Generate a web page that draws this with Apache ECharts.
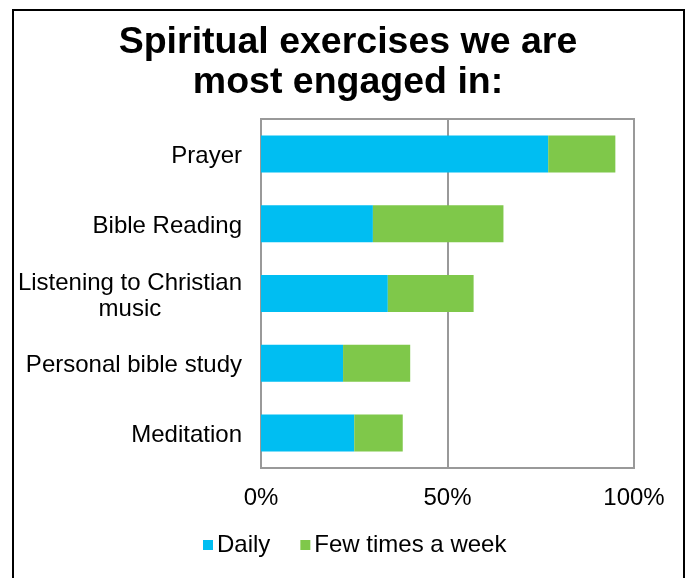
<!DOCTYPE html>
<html><head><meta charset="utf-8">
<script src="https://cdn.jsdelivr.net/npm/echarts@6/dist/echarts.min.js"></script>
<style>html,body{margin:0;padding:0;background:#fff}#c{width:689px;height:578px}</style>
</head><body><div id="c"></div>
<script>
const categories = ['Prayer', 'Bible Reading', 'Listening to Christian\nmusic', 'Personal bible study', 'Meditation'];
const daily = [77, 30, 34, 22, 25];
const fewTimes = [18, 35, 23, 18, 13];
const xTicks = [0, 50, 100];

const chart = echarts.init(document.getElementById('c'), null, {renderer: 'canvas'});
const font = '"Liberation Sans", Arial, Helvetica, sans-serif';
chart.setOption({
  animation: false,
  textStyle: {fontFamily: font},
  title: {
    text: 'Spiritual exercises we are\nmost engaged in:',
    left: 343, top: 18, textAlign: 'center',
    textStyle: {fontSize: 37.5, fontWeight: 'bold', color: '#000', lineHeight: 40, fontFamily: font}
  },
  graphic: [{
    type: 'rect', shape: {x: 13, y: 10, width: 671, height: 600},
    style: {fill: 'none', stroke: '#000', lineWidth: 2}, z: 100
  }],
  legend: {
    bottom: 16, left: 198,
    itemWidth: 10, itemHeight: 10, itemGap: 30,
    icon: 'rect',
    textStyle: {fontSize: 24, color: '#000', fontFamily: font, padding: [0, 0, 0, -1]},
    data: ['Daily', 'Few times a week']
  },
  grid: {left: 261, right: 55, top: 119, bottom: 110, show: true, borderColor: '#999', borderWidth: 2, containLabel: false},
  xAxis: {
    type: 'value', min: xTicks[0], max: xTicks[xTicks.length - 1], interval: 50,
    axisLine: {show: false}, axisTick: {show: false},
    axisLabel: {formatter: v => v + '%', fontSize: 24, color: '#000', margin: 18, fontFamily: font},
    splitLine: {show: true, lineStyle: {color: '#999', width: 2}}
  },
  yAxis: {
    type: 'category', inverse: true, data: categories,
    axisLine: {show: false}, axisTick: {show: false},
    axisLabel: {
      color: '#000', margin: 19,
      formatter: v => v.split('\n').map(s => '{c|' + s + '}').join('\n'),
      rich: {c: {fontSize: 24, color: '#000', lineHeight: 26, align: 'center', fontFamily: font, padding: [5, 0, 0, 0]}}
    }
  },
  series: [
    {name: 'Daily', type: 'bar', stack: 's', data: daily, barWidth: '53%', itemStyle: {color: '#00BEF2'}},
    {name: 'Few times a week', type: 'bar', stack: 's', data: fewTimes, barWidth: '53%', itemStyle: {color: '#7FC84A'}}
  ]
});
</script></body></html>
